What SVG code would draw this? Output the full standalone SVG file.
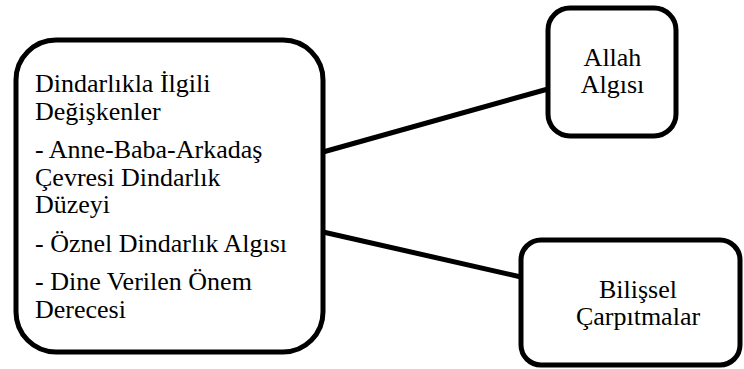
<svg xmlns="http://www.w3.org/2000/svg" width="744" height="369" viewBox="0 0 744 369">
<style>
.box{fill:#fff;stroke:#000;stroke-width:5}
.conn{stroke:#000;stroke-width:5;fill:none}
.t{font-family:'Liberation Serif','Times New Roman',serif;font-size:26px;fill:#000}
.c{text-anchor:middle}
</style>
<rect width="744" height="369" fill="#fff"/>
<g id="connectors">
<line class="conn" x1="323" y1="152" x2="548" y2="89"/>
<line class="conn" x1="323" y1="232" x2="521" y2="277"/>
</g>
<g id="node-dindarlik">
<rect class="box" x="16" y="40" width="307" height="312" rx="40"/>
<text class="t" x="35" y="92">Dindarlıkla İlgili</text>
<text class="t" x="35" y="120">Değişkenler</text>
<text class="t" x="35" y="158">- Anne-Baba-Arkadaş</text>
<text class="t" x="35" y="186">Çevresi Dindarlık</text>
<text class="t" x="35" y="213">Düzeyi</text>
<text class="t" x="35" y="252">- Öznel Dindarlık Algısı</text>
<text class="t" x="35" y="290">- Dine Verilen Önem</text>
<text class="t" x="35" y="318">Derecesi</text>
</g>
<g id="node-allah">
<rect class="box" x="548" y="8" width="128" height="128" rx="22"/>
<text class="t c" x="612.5" y="66">Allah</text>
<text class="t c" x="612.5" y="93">Algısı</text>
</g>
<g id="node-bilissel">
<rect class="box" x="521" y="240" width="219" height="125" rx="20"/>
<text class="t c" x="638" y="298">Bilişsel</text>
<text class="t c" x="638" y="325">Çarpıtmalar</text>
</g>
</svg>
